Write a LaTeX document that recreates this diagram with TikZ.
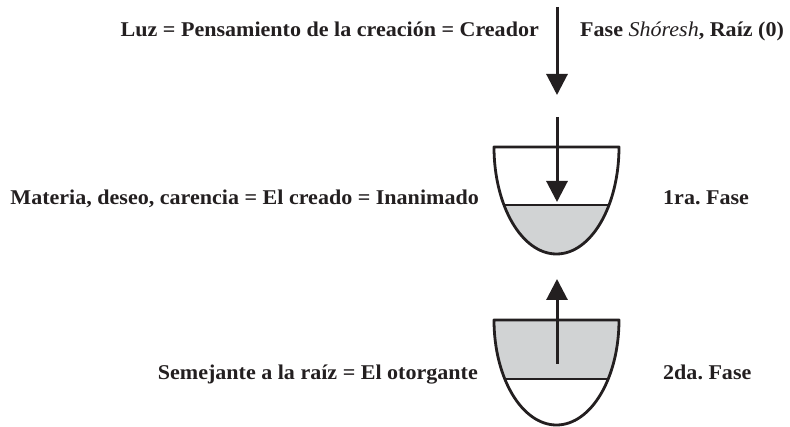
\documentclass[tikz,border=0pt]{standalone}
\usepackage{fontspec}
\setmainfont{Liberation Serif}[FakeStretch=1.05]
\usetikzlibrary{arrows.meta}
\definecolor{cupfill}{RGB}{209,211,212}
\definecolor{ink}{RGB}{35,31,32}
\frenchspacing
\begin{document}
\begin{tikzpicture}[x=1pt,y=-1pt,
  lbl/.style={font=\fontsize{21}{24}\selectfont\bfseries, text=ink, inner sep=0pt},
  cupline/.style={draw=ink, line width=2.8pt, line join=round},
  flow/.style={draw=ink, line width=3pt, -{Triangle[length=21pt,width=21pt]}}]
\useasboundingbox (0,0) rectangle (790,427);
% text
\node[lbl, anchor=base east] (luz) at (539,37) {Luz = Pensamiento de la creación = Creador};
\node[lbl, anchor=base west] (fase0) at (580,37) {Fase \textmd{\textit{Shóresh}}, Raíz (0)};
\node[lbl, anchor=base east] (materia) at (479,205) {Materia, deseo, carencia = El creado = Inanimado};
\node[lbl, anchor=base west] (fase1) at (663,205) {1ra. Fase};
\node[lbl, anchor=base east] (semejante) at (478,380) {Semejante a la raíz = El otorgante};
\node[lbl, anchor=base west] (fase2) at (663,380) {2da. Fase};
% cup 1
\begin{scope}
\clip (619,147) arc[start angle=0, end angle=-180, x radius=62.5, y radius=-107] -- cycle;
\fill[cupfill] (490,205) rectangle (625,260);
\draw[ink, line width=1.3pt] (490,205) -- (625,205);
\end{scope}
\draw[cupline] (494,147) -- (619,147) arc[start angle=0, end angle=-180, x radius=62.5, y radius=-107] -- cycle;
% cup 2
\begin{scope}
\clip (619,320) arc[start angle=0, end angle=-180, x radius=62.5, y radius=-105] -- cycle;
\fill[cupfill] (490,318) rectangle (625,379);
\draw[ink, line width=1.3pt] (490,379) -- (625,379);
\end{scope}
\draw[cupline] (494,320) -- (619,320) arc[start angle=0, end angle=-180, x radius=62.5, y radius=-105] -- cycle;
% arrows
\coordinate (a0s) at (557,7);
\coordinate (a0e) at (557,95);
\coordinate (a1s) at (557,117);
\coordinate (a1e) at (557,202);
\coordinate (a2s) at (557,364);
\coordinate (a2e) at (557,279);
\draw[flow] (a0s) -- (a0e);
\draw[flow] (a1s) -- (a1e);
\draw[flow] (a2s) -- (a2e);
\end{tikzpicture}
\end{document}
